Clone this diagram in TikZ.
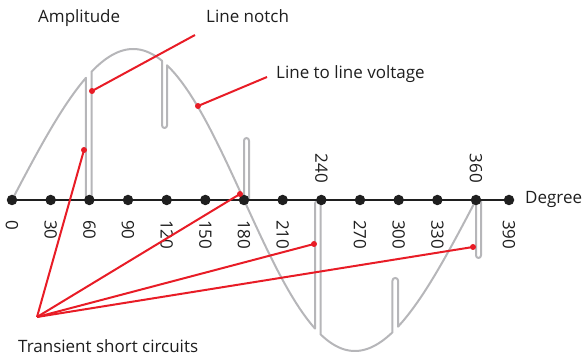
\documentclass[tikz,border=0pt]{standalone}
\usepackage{fontspec}
\setmainfont{Open Sans}
\usepackage{xcolor}
\usepackage{tikz}
\usetikzlibrary{positioning}

\definecolor{wavegray}{RGB}{182,182,185}
\definecolor{abbred}{RGB}{232,28,38}
\definecolor{inkgray}{RGB}{30,30,30}

\begin{document}
\begin{tikzpicture}[
  x=1pt, y=-1pt,
  font=\fontsize{17}{20}\selectfont, text=inkgray,
  declare function={dx(\t)=12+1.2889*\t; wv(\t)=200-151*sin(\t-4*sin(\t));},
  wave/.style={draw=wavegray, line width=2pt, line join=round, samples=40},
  axisline/.style={draw=black!88, line width=2.3pt},
  tick/.style={circle, fill=black!88, inner sep=0pt, minimum size=10.5pt},
  deglbl/.style={rotate=-90, inner sep=0pt},
  ptr/.style={draw=abbred, line width=2pt},
  rdot/.style={circle, fill=abbred, inner sep=0pt, minimum size=6pt},
  lbl/.style={anchor=base west, inner sep=0pt}
]
\useasboundingbox (0,0) rectangle (582,358);

% Spannung mit Kommutierungseinbruechen
\draw[wave]
  plot[domain=0:57.4] ({dx(\x)},{wv(\x)})
  [rounded corners=2.6pt] -- ({dx(57.4)},199) -- ({dx(61.7)},199)
  [sharp corners] -- plot[domain=61.7:116.4] ({dx(\x)},{wv(\x)})
  [rounded corners=2.6pt] -- ({dx(116.4)},128) -- ({dx(120.3)},128)
  [sharp corners] -- plot[domain=120.3:235.1] ({dx(\x)},{wv(\x)})
  [rounded corners=2.6pt] -- ({dx(235.1)},201) -- ({dx(239.4)},201)
  [sharp corners] -- plot[domain=239.4:295.2] ({dx(\x)},{wv(\x)})
  [rounded corners=2.6pt] -- ({dx(295.2)},278) -- ({dx(299.5)},278)
  [sharp corners] -- plot[domain=299.5:360] ({dx(\x)},{wv(\x)})
  [rounded corners=2.6pt] -- ({dx(360)},258) -- (481,258) -- (481,200);
\draw[wave, rounded corners=2.6pt] (244,200) -- (244,138) -- (249,138) -- (249,200);

% Gradachse
\foreach \d in {0,30,...,360} \coordinate (t\d) at ({dx(\d)},200);
\coordinate (t390) at (509,200);
\draw[axisline] (t0) -- (t390);
\foreach \d in {0,30,...,390} \node[tick] (d\d) at (t\d) {};
\foreach \d in {0,30,60,90,120,150,180,210,270,300,330,390}
  \path (t\d) ++(0,20) node[deglbl, anchor=west] (l\d) {\d};
\foreach \d in {240,360}
  \path (t\d) ++(0,-17) node[deglbl, anchor=east] (l\d) {\d};
\node[anchor=west, inner sep=0pt] (deg) at (525,199) {Degree};

% Beschriftungen
\node[lbl] (amp)   at (38,23)  {Amplitude};
\node[lbl] (notch) at (206,23) {Line notch};
\node[lbl] (llv)   at (276,79) {Line to line voltage};
\node[lbl] (tsc)   at (18,353) {Transient short circuits};

% Zeiger
\coordinate (notch-tail) at (195,35);
\coordinate (llv-tail)   at (267,77);
\coordinate (tsc-root)   at (37,317);
\node[rdot] (nd)  at (92,91)   {};
\node[rdot] (vd)  at (198,106) {};
\node[rdot] (ts1) at (84,150)  {};
\node[rdot] (ts2) at (240,194) {};
\node[rdot] (ts3) at (314,244) {};
\node[rdot] (ts4) at (473,247) {};
\draw[ptr] (notch-tail) -- (nd.center);
\draw[ptr] (llv-tail) -- (vd.center);
\foreach \n in {1,...,4} \draw[ptr] (tsc-root) -- (ts\n.center);
\end{tikzpicture}
\end{document}
